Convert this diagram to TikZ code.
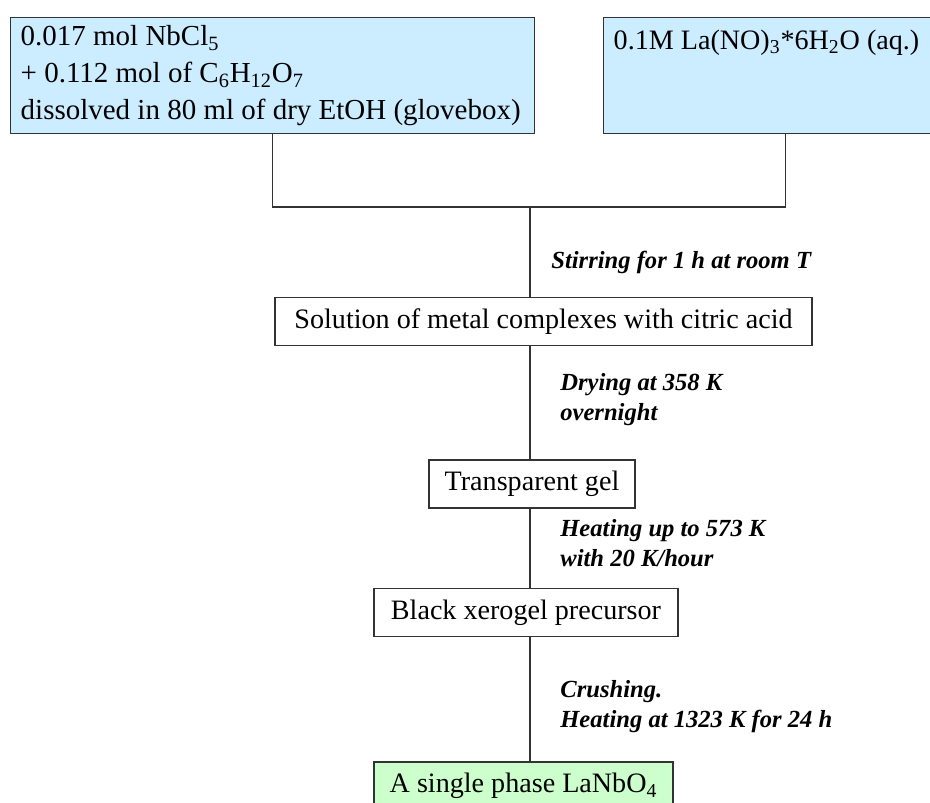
\documentclass[tikz,border=0pt]{standalone}
\usepackage{fontspec}
\setmainfont{Liberation Serif}
\usetikzlibrary{positioning}
\definecolor{startblue}{RGB}{204,236,255}
\definecolor{endgreen}{RGB}{204,255,204}

\begin{document}
\begin{tikzpicture}[x=0.02cm, y=-0.02cm,
  box/.style={draw=black!80, line width=0.8pt, inner sep=0pt, font=\fontsize{16}{20.5}\selectfont},
  startbox/.style={box, fill=startblue, align=flush left, anchor=north west, text width=#1,
    minimum height=2.32cm, inner xsep=0.2cm, inner ysep=0.2cm},
  stepbox/.style={box, fill=white, minimum height=0.96cm},
  note/.style={font=\fontsize{14}{17}\selectfont\bfseries\itshape, align=left, anchor=west, inner xsep=0pt},
  link/.style={draw=black!80, line width=0.8pt}]
\clip (0,0) rectangle (930,802);
\fill[white] (0,0) rectangle (930,802);

% starting solutions
\node[startbox=10.08cm, inner ysep=0.13cm, font=\fontsize{16.5}{21}\selectfont] (nb) at (10,17)
  {0.017 mol NbCl\textsubscript{5}\\
   + 0.112 mol of C\textsubscript{6}H\textsubscript{12}O\textsubscript{7}\\
   dissolved in 80 ml of dry EtOH (glovebox)};
\node[startbox=6.88cm] (la) at (603,17)
  {0.1M La(NO)\textsubscript{3}*6H\textsubscript{2}O (aq.)\\ ~\\ ~};

% process steps
\coordinate (join) at (530,207);
\node[stepbox, minimum width=10.74cm] (sol) at (543.5,321.5) {Solution of metal complexes with citric acid};
\node[stepbox, minimum width=4.12cm] (gel) at (532,484) {Transparent gel};
\node[stepbox, minimum width=6.08cm] (xero) at (526,612.5) {Black xerogel precursor};
\node[stepbox, minimum width=5.98cm, fill=endgreen] (prod) at (523.5,786) {A single phase LaNbO\textsubscript{4}};

% conditions
\node[note] (c1) at (551,262) {Stirring for 1 h at room T};
\node[note] (c2) at (560,400) {Drying at 358 K\\overnight};
\node[note] (c3) at (560,543) {Heating up to 573 K\\with 20 K/hour};
\node[note] (c4) at (560,707) {Crushing.\\Heating at 1323 K for 24 h};

% connectors
\draw[link] (nb.south) |- (join) -| (la.south);
\draw[link] (join) -- (join |- sol.north);
\draw[link] (join |- sol.south) -- (join |- gel.north);
\draw[link] (join |- gel.south) -- (join |- xero.north);
\draw[link] (join |- xero.south) -- (join |- prod.north);
\end{tikzpicture}
\end{document}
